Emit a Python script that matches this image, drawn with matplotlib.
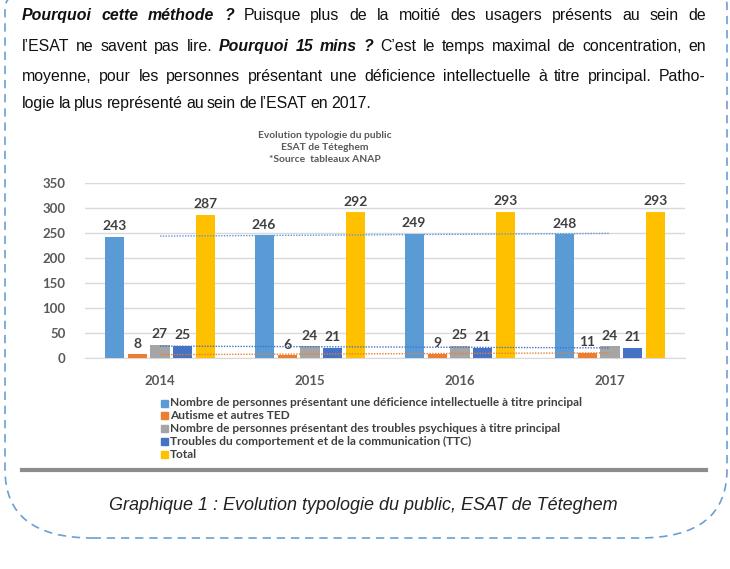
import numpy as np
import matplotlib
matplotlib.use("Agg")
import matplotlib.pyplot as plt
from matplotlib.patches import FancyBboxPatch, Rectangle

W, H = 730, 569

categories = ['2014', '2015', '2016', '2017']
series_names = [
    "Nombre de personnes présentant une déficience intellectuelle à titre principal",
    "Autisme et autres TED",
    "Nombre de personnes présentant des troubles psychiques à titre principal",
    "Troubles du comportement et de la communication (TTC)",
    "Total",
]
deficience = [243, 246, 249, 248]
autisme = [8, 6, 9, 11]
psychiques = [27, 24, 25, 24]
ttc = [25, 21, 21, 21]
total = [287, 292, 293, 293]
values = [deficience, autisme, psychiques, ttc, total]
colors = ['#5B9BD5', '#ED7D31', '#A5A5A5', '#4472C4', '#FFC000']
trend_series = [0, 1, 3]

chart_title = ["Evolution typologie du public", "ESAT de Téteghem", "*Source  tableaux ANAP"]
caption = "Graphique 1 : Evolution typologie du public, ESAT de Téteghem"

# paragraph: list of lines, each a list of (text, bold-italic?)
para = [
    [("Pourquoi cette méthode ?", True), ("Puisque plus de la moitié des usagers présents au sein de", False)],
    [("l’ESAT ne savent pas lire.", False), ("Pourquoi 15 mins ?", True),
     ("C’est le temps maximal de concentration, en", False)],
    [("moyenne, pour les personnes présentant une déficience intellectuelle à titre principal. Patho-", False)],
    [("logie la plus représenté au sein de l’ESAT en 2017.", False)],
]
para_base = [20, 51, 81, 108]


def fx(x):
    return x / W


def fy(y):
    return 1 - y / H


fig = plt.figure(figsize=(7.3, 5.69), dpi=100)
renderer = fig.canvas.get_renderer()

# dashed rounded frame, top edge outside the picture
frame = FancyBboxPatch((fx(5), fy(538)), fx(722), (538 + 60) / H,
                       boxstyle="round,pad=0,rounding_size=0.12",
                       transform=fig.transFigure, fill=False,
                       edgecolor='#6A9FD4', lw=1.2, linestyle=(0, (5, 3.5)))
fig.patches.append(frame)

# justified paragraph
x0, x1 = 22, 706
for i, line in enumerate(para):
    words = []
    for txt, bold in line:
        for w in txt.split(' '):
            words.append((w, bold))
    items = []
    for w, bold in words:
        t = fig.text(0, fy(para_base[i]), w, fontsize=11.4, family='Liberation Sans',
                     fontweight='bold' if bold else 'normal',
                     fontstyle='italic' if bold else 'normal',
                     color='#111111', va='baseline', ha='left')
        wd = t.get_window_extent(renderer).width
        items.append((t, wd))
    total_w = sum(wd for _, wd in items)
    if i < len(para) - 1:
        gap = (x1 - x0 - total_w) / (len(items) - 1)
    else:
        gap = 3.2
    x = x0
    for t, wd in items:
        t.set_x(fx(x))
        x += wd + gap

# chart title
for k, line in enumerate(chart_title):
    fig.text(fx(325), fy(135 + k * 12), line, ha='center', va='center',
             fontsize=7.4, family='Lato', fontweight='bold', color='#595959')

# bar chart
ax = fig.add_axes([fx(85), fy(358), fx(600), (358 - 183) / H])
xs = np.arange(len(categories))
pitch, width = 0.153, 0.127
for i, (vals, col) in enumerate(zip(values, colors)):
    bars = ax.bar(xs + (i - 2) * pitch, vals, width, color=col, zorder=3)
    ax.bar_label(bars, padding=3, fontsize=10, fontweight='bold',
                 family='Lato', color='#404040')
for i in trend_series:
    a, b = np.polyfit(xs, values[i], 1)
    ax.plot(xs, a * xs + b, linestyle=(0, (1, 1)), lw=1, color=colors[i], zorder=4)

ax.set_xlim(-0.5, 3.5)
ax.set_ylim(0, 350)
ax.set_yticks(range(0, 351, 50))
ax.set_xticks(xs)
ax.set_xticklabels(categories)
ax.grid(axis='y', color='#D9D9D9', lw=1, zorder=0)
for s in ['top', 'right', 'left']:
    ax.spines[s].set_visible(False)
ax.spines['bottom'].set_color('#D9D9D9')
ax.tick_params(length=0)
ax.tick_params(axis='y', pad=14)
ax.tick_params(axis='x', pad=12)
for lab in ax.get_yticklabels() + ax.get_xticklabels():
    lab.set_fontfamily('Lato')
    lab.set_fontweight('bold')
    lab.set_color('#595959')
    lab.set_fontsize(9.5)

# legend
for k, (name, col) in enumerate(zip(series_names, colors)):
    yy = 403 + k * 12.8
    fig.patches.append(Rectangle((fx(161), fy(yy + 3.5)), fx(7), 7 / H,
                                 transform=fig.transFigure, color=col))
    fig.text(fx(170), fy(yy), name, ha='left', va='center', fontsize=8.6,
             family='Lato', fontweight='bold', color='#404040')

# grey rule under the chart
fig.add_artist(plt.Line2D([fx(22), fx(706)], [fy(470), fy(470)],
                          transform=fig.transFigure, color='#8C8C8C', lw=3))

fig.text(fx(363), fy(506), caption, ha='center', va='center', fontsize=13,
         family='Liberation Sans', fontstyle='italic', color='#222222')

fig.savefig('out.png', dpi=100)
